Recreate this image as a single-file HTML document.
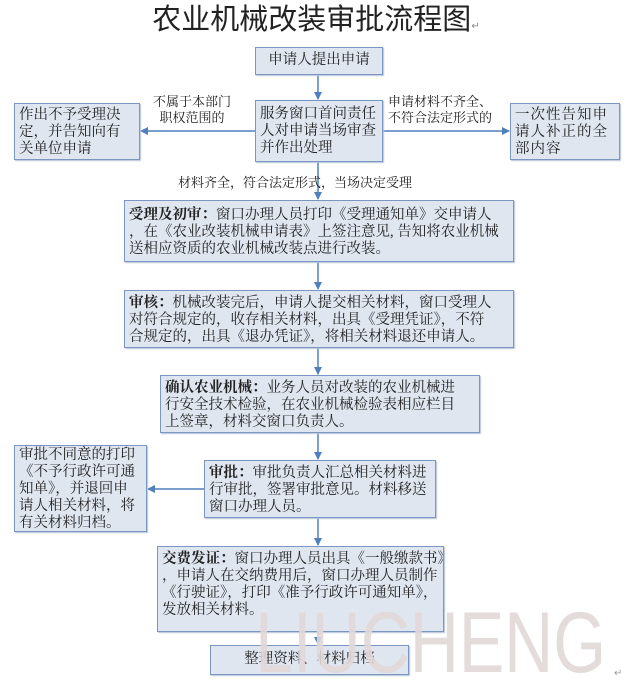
<!DOCTYPE html>
<html><head><meta charset="utf-8"><style>
body{margin:0;width:632px;height:690px;background:#fff;position:relative;overflow:hidden;font-family:"Liberation Serif","Noto Serif CJK SC","Noto Sans CJK SC",serif;color:#222}
.b{position:absolute;background:#dfe6f0;border:1.5px solid #7a96c2;box-sizing:border-box;font-size:14.5px;line-height:17px;padding:3px 4px;box-shadow:1px 1px 1px #b8c4d6;white-space:nowrap;overflow:hidden}
.t{position:absolute;font-size:13px;line-height:16px;white-space:nowrap}
b{font-weight:bold}
</style></head><body>
<div style="position:absolute;left:0;width:632px;top:2px;text-align:center;font-size:29px;line-height:36px;font-family:'Liberation Sans','Noto Sans CJK SC',sans-serif">农业机械改装审批流程图<span style="font-size:10px;color:#888">↵</span></div>

<svg width="632" height="690" style="position:absolute;left:0;top:0">
<defs><marker id="a" markerWidth="8" markerHeight="8" refX="7" refY="4" orient="auto" markerUnits="userSpaceOnUse"><path d="M0,0 L8,4 L0,8 z" fill="#4f7fbd"/></marker></defs>
<g stroke="#4f7fbd" stroke-width="1.5" fill="none" marker-end="url(#a)">
<line x1="318" y1="75" x2="318" y2="99"/>
<line x1="255" y1="131" x2="141" y2="131"/>
<line x1="383" y1="131" x2="509" y2="131"/>
<line x1="318" y1="162" x2="318" y2="199"/>
<line x1="318" y1="262" x2="318" y2="289"/>
<line x1="318" y1="348" x2="318" y2="374"/>
<line x1="318" y1="433" x2="318" y2="459"/>
<line x1="204" y1="489" x2="148" y2="489"/>
<line x1="318" y1="518" x2="318" y2="545"/>
<line x1="318" y1="632" x2="318" y2="644"/>
</g></svg>

<div class="b" style="left:255px;top:47px;width:128px;height:28px;text-align:center;padding-top:4px">申请人提出申请</div>
<div class="b" style="left:255px;top:100px;width:128px;height:62px;padding-top:5px">服务窗口首问责任<br>人对申请当场审查<br>并作出处理</div>
<div class="b" style="left:14px;top:103px;width:126px;height:57px;padding-top:3px">作出不予受理决<br>定，并告知向有<br>关单位申请</div>
<div class="b" style="left:510px;top:103px;width:110px;height:57px;padding-top:3px;letter-spacing:1px">一次性告知申<br>请人补正的全<br>部内容</div>
<div class="t" style="left:153px;top:94px;text-align:center">不属于本部门<br>职权范围的</div>
<div class="t" style="left:388px;top:94px">申请材料不齐全、<br>不符合法定形式的</div>
<div class="t" style="left:178px;top:175px">材料齐全，符合法定形式，当场决定受理</div>

<div class="b" style="left:124px;top:200px;width:390px;height:62px;padding-top:6px"><b>受理及初审：</b>窗口办理人员打印《受理通知单》交申请人<br>，在《农业改装机械申请表》上签注意见, 告知将农业机械<br>送相应资质的农业机械改装点进行改装。</div>
<div class="b" style="left:124px;top:290px;width:390px;height:58px;padding-top:4px"><b>审核：</b>机械改装完后，申请人提交相关材料，窗口受理人<br>对符合规定的，收存相关材料，出具《受理凭证》，不符<br>合规定的，出具《退办凭证》，将相关材料退还申请人。</div>
<div class="b" style="left:160px;top:375px;width:320px;height:58px;padding-top:4px"><b>确认农业机械：</b>业务人员对改装的农业机械进<br>行安全技术检验，在农业机械检验表相应栏目<br>上签章，材料交窗口负责人。</div>
<div class="b" style="left:204px;top:460px;width:232px;height:58px;padding-top:4px"><b>审批：</b>审批负责人汇总相关材料进<br>行审批，签署审批意见。材料移送<br>窗口办理人员。</div>
<div class="b" style="left:14px;top:445px;width:133px;height:87px;padding-top:1px">审批不同意的打印<br>《不予行政许可通<br>知单》，并退回申<br>请人相关材料，将<br>有关材料归档。</div>
<div class="b" style="left:157px;top:546px;width:287px;height:86px;padding-top:4px"><b>交费发证：</b>窗口办理人员出具《一般缴款书》<br>，申请人在交纳费用后，窗口办理人员制作<br>《行驶证》，打印《准予行政许可通知单》，<br>发放相关材料。</div>
<div class="b" style="left:210px;top:645px;width:199px;height:30px;text-align:center;padding-top:5px">整理资料、材料归档</div>

<div style="position:absolute;left:255px;top:598px;font-family:'Liberation Sans',sans-serif;font-size:86px;line-height:90px;color:rgba(225,215,215,0.9);transform:scaleX(0.79);transform-origin:0 0;white-space:nowrap">LIUCHENG</div>
<div style="position:absolute;left:614px;top:668px;font-size:10px;color:#999">↵</div>
</body></html>
